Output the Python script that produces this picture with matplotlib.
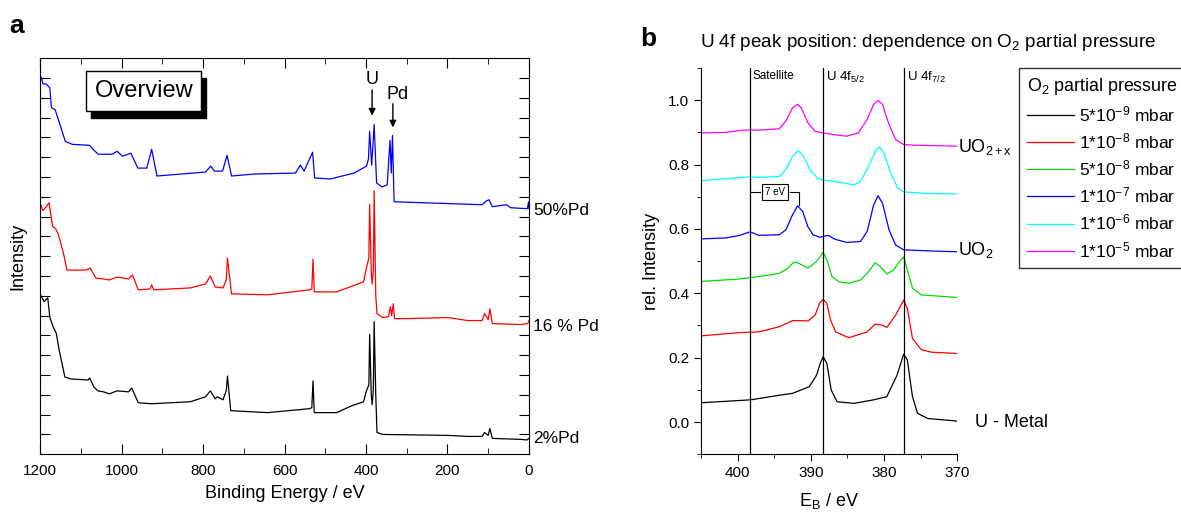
import matplotlib
matplotlib.use("Agg")
import matplotlib.pyplot as plt
from matplotlib.patches import Rectangle

plt.rcParams['font.family'] = ['Liberation Sans', 'DejaVu Sans']
plt.rcParams['mathtext.fontset'] = 'custom'
plt.rcParams['mathtext.rm'] = 'Liberation Sans'
plt.rcParams['mathtext.it'] = 'Liberation Sans:italic'

# ── panel a: overview survey spectra (binding energy in eV, intensity in offset units)
pd2_E = [1200, 1190, 1181, 1176, 1167, 1160, 1153, 1139, 1124, 1082, 1078, 1068, 1058, 1044, 1030,
         1011, 983, 975, 959, 926, 831, 794, 782, 770, 765, 751, 743, 740, 732, 642, 539, 533, 530,
         527, 472, 435, 406, 399, 393, 391, 387, 385, 382, 380, 376, 373, 359, 198, 150, 115, 109,
         100, 96, 90, 20, 5, 0]
pd2_I = [8.1, 7.7, 7.9, 6.9, 6.4, 6.1, 5.25, 3.9, 3.8, 3.75, 3.85, 3.4, 3.2, 3.15, 3.05,
         3.2, 3.15, 3.35, 2.6, 2.55, 2.65, 2.9, 3.2, 2.8, 2.9, 2.75, 3.2, 3.95, 2.2, 2.1, 2.3, 2.35, 3.7,
         2.1, 2.1, 2.45, 2.65, 3.2, 3.5, 6.05, 3.0, 2.5, 3.2, 6.7, 3.0, 1.1, 1.0, 0.95, 0.9, 0.9, 1.1,
         0.95, 1.3, 0.8, 0.75, 0.72, 0.8]

pd16_E = [1200, 1193, 1185, 1178, 1169, 1162, 1155, 1142, 1134, 1087, 1077, 1063, 1044, 1030, 1011,
          983, 973, 959, 930, 926, 921, 831, 794, 782, 770, 751, 743, 740, 730, 642, 539, 533, 530,
          527, 472, 406, 399, 393, 391, 387, 385, 382, 380, 376, 373, 359, 345, 340, 337, 333, 330,
          300, 198, 150, 115, 109, 100, 96, 90, 20, 3, 0]
pd16_I = [12.7, 12.3, 12.5, 12.7, 11.5, 11.4, 11.1, 10.1, 9.3, 9.3, 9.4, 8.9, 8.85, 8.8, 8.95,
          8.85, 9.05, 8.3, 8.35, 8.55, 8.3, 8.4, 8.6, 9.0, 8.45, 8.4, 8.8, 9.9, 8.1, 8.05, 8.3, 8.35, 9.85,
          8.2, 8.2, 8.7, 9.4, 9.9, 12.6, 9.2, 8.6, 9.3, 13.3, 8.0, 7.1, 6.9, 6.95, 7.45, 7.0, 7.6, 6.85,
          6.85, 6.9, 6.75, 6.75, 7.1, 6.8, 7.35, 6.6, 6.55, 6.6, 6.75]

pd50_E = [1200, 1197, 1193, 1185, 1176, 1172, 1163, 1155, 1138, 1121, 1078, 1070, 1057, 1023, 1011,
          998, 977, 960, 938, 926, 913, 794, 781, 772, 752, 741, 730, 675, 573, 561, 552, 531, 526,
          488, 429, 399, 394, 391, 386, 380, 374, 361, 348, 341, 338, 335, 331, 115, 104, 98, 90,
          55, 45, 4, 1, 0]
pd50_I = [19.1, 19.05, 18.7, 18.7, 18.5, 17.5, 17.4, 16.9, 15.8, 15.65, 15.6, 15.4, 15.15, 15.15, 15.3,
          15.05, 15.2, 14.45, 14.45, 15.4, 14.05, 14.25, 14.55, 14.3, 14.3, 15.1, 14.05, 14.15, 14.2,
          14.6, 14.3, 15.25, 13.95, 13.9, 14.2, 14.55, 14.9, 16.3, 14.6, 16.65, 13.7, 13.5, 13.6, 15.85,
          14.2, 16.1, 12.75, 12.6, 12.8, 12.85, 12.5, 12.6, 12.45, 12.4, 12.75, 12.4]

overview_labels = ["50%Pd", "16 % Pd", "2%Pd"]
overview_label_y = [12.3, 6.45, 0.8]

# ── panel b: U 4f region, normalised and offset
e_black = [404.9, 398.2, 394.1, 392.5, 390.2, 389.2, 388.7, 388.3, 387.8, 387.2, 386.4, 384.1, 381.4,
           379.6, 378.2, 377.8, 377.3, 376.8, 376.1, 375.4, 374.0, 370.0]
i_black = [0.060, 0.069, 0.084, 0.089, 0.110, 0.146, 0.183, 0.203, 0.182, 0.099, 0.063, 0.058, 0.069,
           0.079, 0.146, 0.175, 0.211, 0.193, 0.079, 0.027, 0.011, 0.003]

e_red = [404.9, 399.6, 397.1, 394.3, 392.5, 391.3, 390.4, 389.4, 388.8, 388.3, 387.8, 387.3, 386.6,
         384.8, 382.3, 381.2, 380.2, 379.6, 378.4, 377.3, 376.8, 376.1, 374.9, 373.5, 370.0]
i_red = [0.268, 0.278, 0.280, 0.296, 0.315, 0.315, 0.314, 0.332, 0.369, 0.381, 0.369, 0.317, 0.280,
         0.262, 0.280, 0.304, 0.301, 0.294, 0.332, 0.379, 0.353, 0.260, 0.225, 0.217, 0.213]

e_green = [404.9, 400.0, 397.1, 394.3, 393.1, 392.3, 391.7, 390.4, 389.2, 388.3, 387.8, 387.1, 386.2,
           384.8, 383.2, 382.1, 381.2, 380.5, 379.6, 378.7, 377.7, 377.3, 376.8, 376.1, 374.9, 370.0]
i_green = [0.437, 0.444, 0.452, 0.462, 0.478, 0.497, 0.494, 0.478, 0.499, 0.527, 0.504, 0.452, 0.436,
           0.431, 0.441, 0.467, 0.495, 0.483, 0.460, 0.472, 0.504, 0.512, 0.473, 0.416, 0.395, 0.387]

e_blue = [405.0, 401.6, 399.7, 398.3, 397.1, 394.3, 393.4, 392.6, 391.8, 391.1, 390.4, 389.7, 388.8,
          387.6, 386.7, 385.1, 383.2, 382.3, 381.4, 380.8, 380.2, 379.3, 378.4, 377.3, 373.0, 370.0]
i_blue = [0.569, 0.572, 0.580, 0.591, 0.580, 0.582, 0.597, 0.639, 0.672, 0.654, 0.607, 0.582, 0.574,
          0.580, 0.568, 0.558, 0.561, 0.592, 0.675, 0.703, 0.680, 0.597, 0.550, 0.535, 0.531, 0.529]

e_cyan = [405.0, 401.6, 398.3, 397.1, 394.3, 393.4, 392.5, 391.7, 391.0, 390.0, 389.0, 388.3, 386.9,
          384.1, 383.2, 382.1, 381.2, 380.6, 380.0, 379.1, 378.1, 377.3, 374.0, 370.0]
i_cyan = [0.750, 0.756, 0.762, 0.760, 0.763, 0.784, 0.826, 0.843, 0.826, 0.779, 0.757, 0.752, 0.748,
          0.737, 0.747, 0.794, 0.840, 0.855, 0.836, 0.774, 0.727, 0.715, 0.710, 0.709]

e_magenta = [405.0, 401.6, 399.2, 397.1, 394.3, 393.4, 392.5, 391.8, 391.3, 390.4, 389.4, 388.3, 386.9,
             385.1, 383.5, 382.3, 381.4, 380.8, 380.2, 379.3, 378.4, 377.3, 375.5, 370.0]
i_magenta = [0.898, 0.900, 0.907, 0.907, 0.911, 0.935, 0.976, 0.987, 0.976, 0.930, 0.903, 0.898, 0.893,
             0.888, 0.898, 0.940, 0.987, 0.999, 0.987, 0.924, 0.878, 0.862, 0.860, 0.857]

pressures = ["5*10$^{-9}$ mbar", "1*10$^{-8}$ mbar", "5*10$^{-8}$ mbar",
             "1*10$^{-7}$ mbar", "1*10$^{-6}$ mbar", "1*10$^{-5}$ mbar"]
line_positions = [398.3, 388.3, 377.3]
line_labels = ["Satellite", "U 4f$_{5/2}$", "U 4f$_{7/2}$"]


fig = plt.figure(figsize=(11.81, 5.15), dpi=100)

# ---------------- panel a ----------------
ax1 = fig.add_axes([0.0339, 0.118, 0.414, 0.769])
ax1.plot(pd2_E, pd2_I, color="black", lw=0.9)
ax1.plot(pd16_E, pd16_I, color="red", lw=0.9)
ax1.plot(pd50_E, pd50_I, color="blue", lw=0.9)
ax1.set_xlim(1200, 0)
ax1.set_ylim(0, 20)
ax1.set_xticks(range(0, 1201, 200))
ax1.set_xticks(range(0, 1201, 100), minor=True)
ax1.set_yticks(range(1, 20))
ax1.set_yticklabels([])
ax1.tick_params(which="both", direction="in", top=True, right=True, labelsize=11, pad=7)
ax1.tick_params(which="major", length=7)
ax1.tick_params(which="minor", length=4)
ax1.set_xlabel("Binding Energy / eV", fontsize=13, labelpad=5)
ax1.set_ylabel("Intensity", fontsize=13, labelpad=3)

for lab, y in zip(overview_labels, overview_label_y):
    ax1.text(1.008, y, lab, transform=ax1.get_yaxis_transform(), fontsize=12.5,
             va="center", ha="left")

# overview box with drop shadow
ax1.add_patch(Rectangle((0.104, 0.849), 0.236, 0.102, transform=ax1.transAxes,
                        facecolor="black", edgecolor="black", zorder=4))
ax1.add_patch(Rectangle((0.094, 0.866), 0.236, 0.102, transform=ax1.transAxes,
                        facecolor="white", edgecolor="black", lw=1.0, zorder=5))
ax1.text(0.212, 0.917, "Overview", transform=ax1.transAxes, fontsize=17,
         ha="center", va="center", zorder=6)

arrow = dict(arrowstyle="-|>", color="black", lw=1, mutation_scale=10, shrinkA=0, shrinkB=0)
ax1.text(385, 18.5, "U", fontsize=13, ha="center", va="bottom")
ax1.annotate("", xy=(385, 17.1), xytext=(385, 18.4), arrowprops=arrow)
ax1.text(322, 17.75, "Pd", fontsize=13, ha="center", va="bottom")
ax1.annotate("", xy=(334, 16.5), xytext=(334, 17.7), arrowprops=arrow)
fig.text(0.008, 0.935, "a", fontsize=19, fontweight="bold")

# ---------------- panel b ----------------
ax2 = fig.add_axes([0.5936, 0.118, 0.2168, 0.75])
series = [(e_black, i_black, "black"), (e_red, i_red, "red"), (e_green, i_green, "#00dd00"),
          (e_blue, i_blue, "blue"), (e_cyan, i_cyan, "cyan"), (e_magenta, i_magenta, "magenta")]
for (e, i, c), lab in zip(series, pressures):
    ax2.plot(e, i, color=c, lw=0.9, label=lab)
for xpos, lab in zip(line_positions, line_labels):
    ax2.axvline(xpos, color="black", lw=0.9)
    ax2.text(xpos - 0.4, 1.095, lab, fontsize=8.5 if lab == "Satellite" else 9.5,
             ha="left", va="top")
ax2.set_xlim(405, 370)
ax2.set_ylim(-0.1, 1.1)
ax2.set_xticks([400, 390, 380, 370])
ax2.set_xticks([405, 395, 385, 375], minor=True)
ax2.set_yticks([0.0, 0.2, 0.4, 0.6, 0.8, 1.0])
ax2.set_yticks([-0.1, 0.1, 0.3, 0.5, 0.7, 0.9, 1.1], minor=True)
ax2.spines["top"].set_visible(False)
ax2.spines["right"].set_visible(False)
ax2.tick_params(which="both", direction="out", labelsize=11)
ax2.tick_params(which="major", length=5)
ax2.tick_params(which="minor", length=3)
ax2.set_xlabel("E$_\\mathrm{B}$ / eV", fontsize=13, labelpad=8)
ax2.set_ylabel("rel. Intensity", fontsize=13, labelpad=6)
ax2.set_title("U 4f peak position: dependence on O$_2$ partial pressure", fontsize=13.6,
              loc="left", x=-0.005, pad=15)

# 7 eV bracket
ax2.plot([398.3, 397.0], [0.715, 0.715], color="black", lw=0.8)
ax2.plot([392.8, 391.6, 391.6], [0.715, 0.715, 0.675], color="black", lw=0.8)
ax2.text(394.9, 0.715, "7 eV", fontsize=7, ha="center", va="center",
         bbox=dict(boxstyle="square,pad=0.3", facecolor="white", edgecolor="black", lw=0.8))

ax2.text(369.9, 0.853, "UO$_\\mathrm{2+x}$", fontsize=13, ha="left", va="center", clip_on=False)
ax2.text(369.9, 0.533, "UO$_2$", fontsize=13, ha="left", va="center", clip_on=False)
ax2.text(367.6, 0.0, "U - Metal", fontsize=13, ha="left", va="center", clip_on=False)

leg = ax2.legend(loc="upper left", bbox_to_anchor=(0.8628, 0.868), bbox_transform=fig.transFigure,
                 title="O$_2$ partial pressure", fontsize=12.5, title_fontsize=12.9,
                 alignment="left", frameon=True, fancybox=False, handlelength=2.7,
                 labelspacing=0.42, borderpad=0.45, handletextpad=0.3, borderaxespad=0)
leg.get_frame().set_edgecolor("black")
leg.get_frame().set_linewidth(1.0)
fig.text(0.542, 0.91, "b", fontsize=19, fontweight="bold")

plt.savefig("out.png", dpi=100)
